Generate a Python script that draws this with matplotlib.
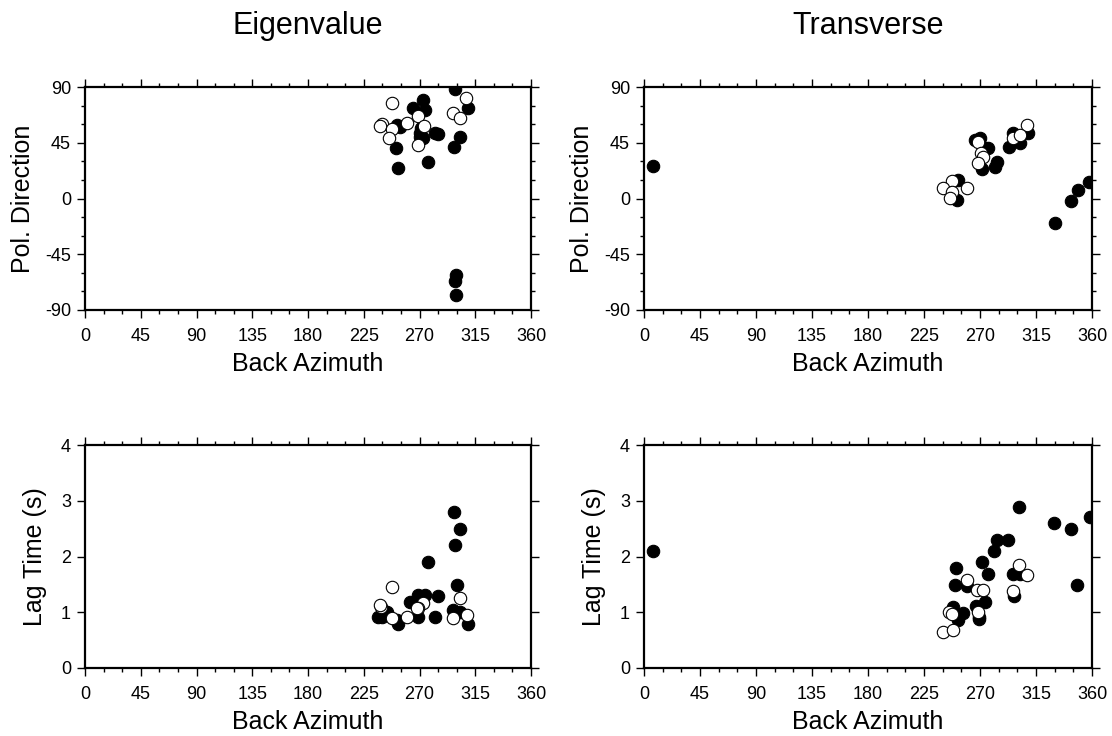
import numpy as np
import matplotlib.pyplot as plt
from matplotlib.ticker import MultipleLocator

plt.rcParams['font.family'] = ['Liberation Sans', 'DejaVu Sans']
plt.rcParams['axes.unicode_minus'] = False

# Eigenvalue method: polarization direction (filled = null/good, open = other)
eig_pol_az_f = [298.5, 272.9, 264.9, 274.3, 309.2, 251.5, 250.9, 252.8, 270.3, 272.9,
                277.0, 282.4, 285.0, 302.5, 298.0, 254.0, 271.6, 270.3, 299.8, 298.5, 299.8]
eig_pol_f = [88.4, 79.5, 72.8, 71.4, 73.3, 59.3, 40.5, 24.4, 52.6, 48.6,
             29.2, 52.6, 52.0, 49.4, 41.3, 58.0, 56.6, 49.9, -61.7, -66.3, -77.9]
eig_pol_az_o = [247.4, 307.9, 297.1, 302.5, 239.4, 238.5, 247.9, 245.5, 260.0, 268.9,
                273.5, 268.4]
eig_pol_o = [77.3, 81.4, 69.3, 64.7, 59.9, 58.5, 55.8, 48.6, 60.7, 66.8,
             58.8, 43.2]

# Eigenvalue method: lag time
eig_lag_az_f = [297.9, 302.5, 298.5, 277.0, 300.4, 285.0, 268.9, 274.3, 262.2, 239.4,
                252.8, 268.9, 282.4, 297.1, 302.5, 309.2, 266.0, 236.6, 243.4, 251.5]
eig_lag_f = [2.79, 2.49, 2.21, 1.91, 1.49, 1.29, 1.31, 1.31, 1.19, 0.92,
             0.79, 0.92, 0.92, 1.04, 1.01, 0.79, 1.19, 0.92, 1.01, 0.86]
eig_lag_az_o = [247.9, 302.5, 272.9, 268.9, 238.6, 247.4, 260.0, 297.1, 308.4, 267.6, 238.0]
eig_lag_o = [1.45, 1.25, 1.17, 1.07, 1.10, 0.89, 0.92, 0.89, 0.95, 1.07, 1.13]

# Transverse method: polarization direction
tr_pol_az_f = [7.5, 308.8, 302.2, 293.6, 296.3, 270.0, 276.7, 271.4, 283.4, 282.1,
               252.6, 251.3, 330.3, 342.9, 349.0, 357.8, 266.0, 274.0]
tr_pol_f = [26.2, 52.6, 44.5, 41.8, 52.6, 48.6, 40.5, 23.6, 29.7, 25.7,
            14.9, -1.2, -19.5, -1.7, 6.9, 13.0, 47.0, 41.0]
tr_pol_az_o = [307.5, 296.3, 302.2, 268.2, 270.8, 272.2, 268.2, 247.7, 240.5, 259.3,
               247.3, 245.9]
tr_pol_o = [59.3, 48.6, 51.3, 45.4, 37.0, 33.7, 28.4, 14.1, 8.2, 8.7,
            5.5, 0.2]

# Transverse method: lag time
tr_lag_az_f = [7.5, 301.6, 329.7, 342.9, 358.4, 348.2, 283.9, 292.7, 281.5, 271.4,
               250.7, 276.2, 296.8, 302.2, 249.9, 259.3, 297.6, 274.0, 266.8, 248.1,
               256.6, 252.6, 269.4, 252.6, 269.4]
tr_lag_f = [2.09, 2.89, 2.60, 2.49, 2.70, 1.49, 2.30, 2.30, 2.10, 1.90,
            1.80, 1.69, 1.69, 1.68, 1.49, 1.47, 1.29, 1.19, 1.11, 1.10,
            0.99, 0.92, 0.92, 0.86, 0.87]
tr_lag_az_o = [301.6, 307.5, 259.3, 267.8, 272.7, 296.3, 245.3, 247.3, 268.6, 240.0, 248.1]
tr_lag_o = [1.85, 1.67, 1.58, 1.40, 1.40, 1.38, 1.01, 0.97, 1.01, 0.65, 0.68]

fig = plt.figure(figsize=(11.12, 7.36), dpi=100)

w_l, w_r, h = 446 / 1112, 448 / 1112, 223 / 736
ax_tl = fig.add_axes([85 / 1112, 1 - 310 / 736, w_l, h])
ax_tr = fig.add_axes([644 / 1112, 1 - 310 / 736, w_r, h])
ax_bl = fig.add_axes([85 / 1112, 1 - 668 / 736, w_l, h])
ax_br = fig.add_axes([644 / 1112, 1 - 668 / 736, w_r, h])


def style(ax, top_row):
    ax.set_xlim(0, 360)
    ax.xaxis.set_major_locator(MultipleLocator(45))
    ax.xaxis.set_minor_locator(MultipleLocator(15))
    if top_row:
        ax.set_ylim(-90, 90)
        ax.yaxis.set_major_locator(MultipleLocator(45))
        ax.yaxis.set_minor_locator(MultipleLocator(15))
        ax.set_ylabel('Pol. Direction', fontsize=18, labelpad=7)
    else:
        ax.set_ylim(0, 4)
        ax.yaxis.set_major_locator(MultipleLocator(1))
        ax.yaxis.set_minor_locator(MultipleLocator(1))
        ax.set_ylabel('Lag Time (s)', fontsize=18, labelpad=10)
    ax.set_xlabel('Back Azimuth', fontsize=18, labelpad=5)
    for sp in ax.spines.values():
        sp.set_linewidth(1.6)
    ax.tick_params(which='both', direction='out', top=True, right=True,
                   width=1.0, labelsize=13)
    ax.tick_params(axis='x', pad=7)
    ax.tick_params(axis='y', pad=4)
    ax.tick_params(which='major', length=6)
    ax.tick_params(which='minor', length=3.2)


def dots(ax, az_f, v_f, az_o, v_o):
    ax.scatter(az_f, v_f, s=80, c='black', edgecolors='black', linewidths=0.8, zorder=3)
    ax.scatter(az_o, v_o, s=80, c='white', edgecolors='black', linewidths=0.8, zorder=4)


dots(ax_tl, eig_pol_az_f, eig_pol_f, eig_pol_az_o, eig_pol_o)
dots(ax_bl, eig_lag_az_f, eig_lag_f, eig_lag_az_o, eig_lag_o)
dots(ax_tr, tr_pol_az_f, tr_pol_f, tr_pol_az_o, tr_pol_o)
dots(ax_br, tr_lag_az_f, tr_lag_f, tr_lag_az_o, tr_lag_o)

for ax, top in [(ax_tl, True), (ax_tr, True), (ax_bl, False), (ax_br, False)]:
    style(ax, top)

ax_tl.set_title('Eigenvalue', fontsize=22, pad=38)
ax_tr.set_title('Transverse', fontsize=22, pad=38)

fig.savefig('out.png', dpi=100)
